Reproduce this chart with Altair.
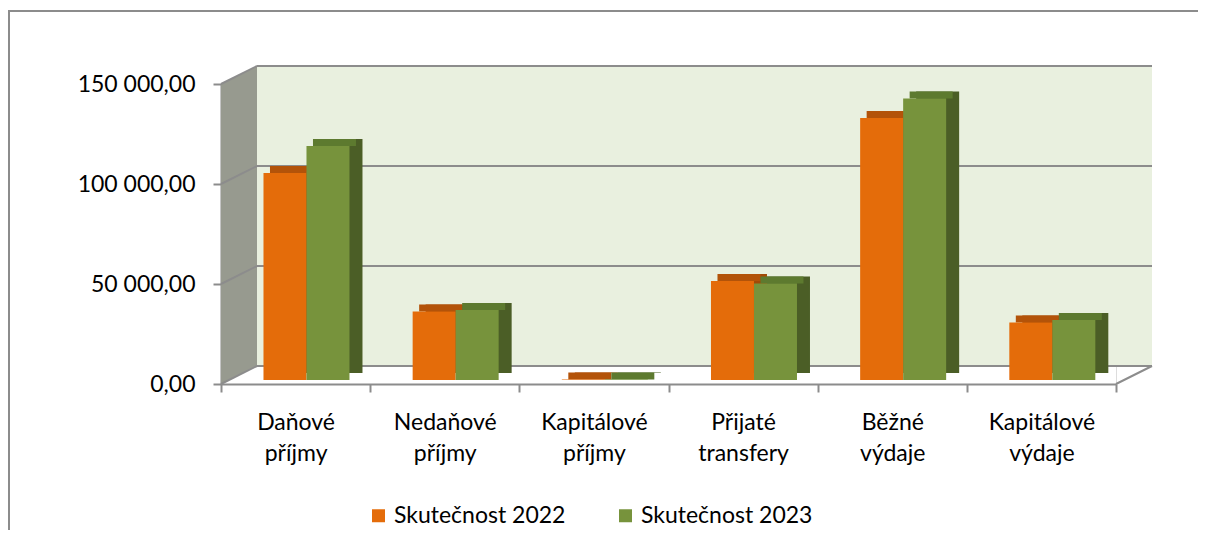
import altair as alt
import pandas as pd

categories = ["Daňové příjmy", "Nedaňové příjmy", "Kapitálové příjmy",
              "Přijaté transfery", "Běžné výdaje", "Kapitálové výdaje"]
series = ["Skutečnost 2022", "Skutečnost 2023"]
values_2022 = [103500, 34200, 300, 49500, 131000, 28700]
values_2023 = [117000, 35000, 200, 48200, 140700, 30000]
y_ticks = [0, 50000, 100000, 150000]

rows = []
for c, a, b in zip(categories, values_2022, values_2023):
    rows.append({"cat": c, "series": series[0], "value": a})
    rows.append({"cat": c, "series": series[1], "value": b})
df = pd.DataFrame(rows)
ticks_df = pd.DataFrame({"t": y_ticks})
one = alt.Data(values=[{}])

# layout / style constants
W, H = 895, 300
DX, DY = 36, 18          # wall depth
BX, BY = 13, 7           # bar depth
BAR_W = 43
SERIES_SHIFT = [-10.6, 32.4]   # bar centre relative to band centre
BAR_SHIFT_Y = -4
FONT = "Lato"
FS = 23
FRONT = ["#E46C0A", "#77933C"]
TOP = ["#B35309", "#5D7A2F"]
SIDE = ["#A24A06", "#4B5E26"]
WALL = "#E9F0DF"
LEFT_WALL = "#979A8F"
GRID = "#8C8C8C"

x_enc = alt.X("cat:N", sort=categories, title=None,
              scale=alt.Scale(paddingInner=0, paddingOuter=0),
              axis=alt.Axis(tickBand="extent", tickSize=8, tickColor=GRID, tickWidth=2,
                            domainColor=GRID, domainWidth=2, labelAngle=0,
                            labelExpr="split(datum.label, ' ')",
                            labelFont=FONT, labelFontSize=FS, labelColor="#000000",
                            labelLineHeight=31, labelPadding=19, labelBaseline="top"))
y_scale = alt.Scale(domain=[0, 150000], nice=False, zero=True)
y_enc = alt.Y("value:Q", scale=y_scale, title=None,
              axis=alt.Axis(values=y_ticks, grid=False, tickSize=8, tickColor=GRID, tickWidth=2,
                            domainColor=GRID, domainWidth=2, labelPadding=18,
                            labelExpr="replace(replace(replace(format(datum.value, ',.2f'), ',', '#'), '.', ','), '#', ' ')",
                            labelFont=FONT, labelFontSize=FS, labelColor="#000000"))

border = alt.Chart(one).mark_rect(fillOpacity=0, stroke="#8C8C8C", strokeWidth=2).encode(
    x=alt.value(-212), x2=alt.value(1400), y=alt.value(-73), y2=alt.value(800))

back_wall = alt.Chart(one).mark_rect(color=WALL, yOffset=-DY, y2Offset=-DY).encode(
    x=alt.value(DX), x2=alt.value(W + DX),
    y=alt.datum(150000, scale=y_scale), y2=alt.datum(0))

wall_path = f"M0,0L{DX},{-DY}L{DX},{-DY - H}L0,{-H}Z"
left_wall = alt.Chart(one).mark_point(shape=wall_path, size=4, filled=True, fill=LEFT_WALL,
                                      opacity=1, strokeWidth=0).encode(
    x=alt.value(0), y=alt.datum(0))

grid = alt.Chart(ticks_df).mark_rule(color=GRID, strokeWidth=2, yOffset=-DY).encode(
    x=alt.value(DX), x2=alt.value(W + DX), y=alt.Y("t:Q", title=None))
diag = alt.Chart(ticks_df).mark_rule(color=GRID, strokeWidth=2, y2Offset=-DY).encode(
    x=alt.value(0), x2=alt.value(DX), y=alt.Y("t:Q", title=None), y2=alt.Y2("t"))
floor_right = alt.Chart(one).mark_rule(color=GRID, strokeWidth=2, y2Offset=-DY).encode(
    x=alt.value(W), x2=alt.value(W + DX), y=alt.datum(0), y2=alt.datum(0))


def bar_layer(i, face):
    base = alt.Chart(df).transform_filter(alt.datum.series == series[i])
    if face == "side":
        m = base.mark_bar(width=BAR_W, color=SIDE[i], xOffset=SERIES_SHIFT[i] + BX,
                          yOffset=BAR_SHIFT_Y - BY, y2Offset=BAR_SHIFT_Y - BY)
        return m.encode(x=x_enc, y=y_enc)
    if face == "top":
        m = base.mark_bar(width=BAR_W, color=TOP[i], xOffset=SERIES_SHIFT[i] + BX / 2,
                          yOffset=BAR_SHIFT_Y - BY, y2Offset=BAR_SHIFT_Y)
        return m.encode(x=x_enc, y=y_enc, y2=alt.Y2("value"))
    m = base.mark_bar(width=BAR_W, xOffset=SERIES_SHIFT[i],
                      yOffset=BAR_SHIFT_Y, y2Offset=BAR_SHIFT_Y)
    return m.encode(
        x=x_enc, y=y_enc,
        color=alt.Color("series:N", sort=series,
                        scale=alt.Scale(domain=series, range=FRONT),
                        legend=alt.Legend(orient="none", legendX=146, legendY=420,
                                          direction="horizontal", title=None,
                                          symbolType="square", symbolSize=169,
                                          symbolStrokeWidth=0, labelOffset=4,
                                          columnPadding=48, labelFont=FONT, labelLimit=400,
                                          labelFontSize=FS, labelColor="#000000")))


bars = [bar_layer(i, f) for f in ("side", "top", "front") for i in (0, 1)]

chart = alt.layer(border, back_wall, left_wall, grid, diag, floor_right, *bars).properties(
    width=W, height=H,
    autosize=alt.AutoSizeParams(type="none"),
    padding={"left": 213, "top": 76, "right": 82, "bottom": 146},
).configure_view(stroke=None).configure(background="white")

chart.save("out.html", embed_options={"renderer": "svg", "actions": False})
